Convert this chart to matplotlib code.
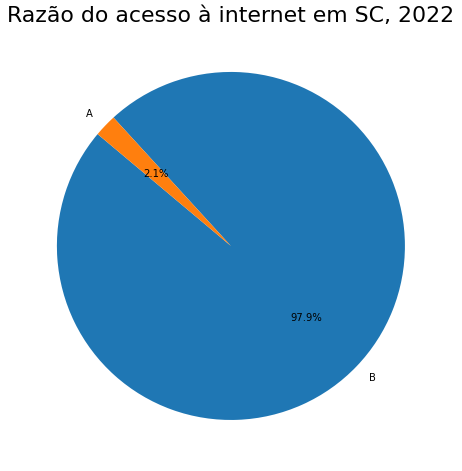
import matplotlib
matplotlib.use("Agg")
import matplotlib.pyplot as plt

labels = ["B", "A"]
values = [97.9, 2.1]
colors = ["#1f77b4", "#ff7f0e"]

fig = plt.figure(figsize=(462 / 72, 471 / 72), dpi=72)
ax = fig.add_axes([0.029, 0.016, 0.9416, 0.9236])
ax.pie(values, labels=labels, colors=colors, autopct="%1.1f%%", startangle=140)
ax.set_title("Razão do acesso à internet em SC, 2022", fontsize=22)
plt.savefig("out.png", dpi=72)
